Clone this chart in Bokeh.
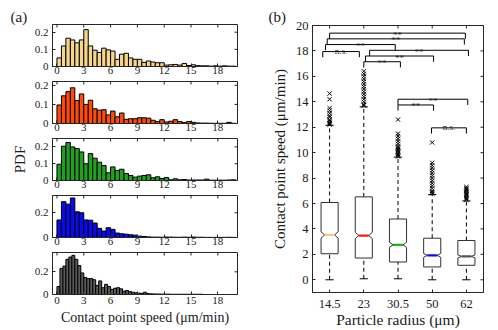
from bokeh.plotting import figure
from bokeh.layouts import row, column
from bokeh.models import FixedTicker, Range1d, ColumnDataSource, Title
from bokeh.embed import file_html
from bokeh.resources import INLINE
from bokeh.core.properties import value

# ---------------- data ----------------
radius_labels = ["14.5", "23", "30.5", "50", "62"]
hist_colors = ["#F5D68C", "#FF4A0A", "#1FA01F", "#0A0AF0", "#5A5A5A"]
median_colors = ["#F2C98A", "#F01E0A", "#22B022", "#0A0AF0", "#555555"]

bin_width_145 = 0.5
pdf_145 = [0.050, 0.120, 0.165, 0.155, 0.138, 0.155, 0.215, 0.120, 0.095, 0.082,
           0.107, 0.097, 0.090, 0.042, 0.072, 0.077, 0.050, 0.042, 0.042, 0.024,
           0.032, 0.026, 0.022, 0.022, 0.008, 0.010, 0.012, 0.008, 0.018, 0.006,
           0.010, 0.005, 0.004, 0.004, 0.002, 0.004, 0.002, 0.004, 0.002, 0.002]
bin_width_23 = 0.5
pdf_23 = [0.097, 0.145, 0.167, 0.187, 0.120, 0.155, 0.100, 0.122, 0.077, 0.070,
          0.072, 0.045, 0.065, 0.035, 0.055, 0.022, 0.025, 0.025, 0.030, 0.030,
          0.028, 0.017, 0.010, 0.020, 0.008, 0.012, 0.020, 0.010, 0.005, 0.010,
          0.006, 0.003, 0.002, 0.002, 0.001, 0.001, 0.001, 0.001, 0.006, 0.001]
bin_width_305 = 0.5
pdf_305 = [0.097, 0.204, 0.226, 0.200, 0.190, 0.170, 0.100, 0.160, 0.133, 0.109,
           0.089, 0.046, 0.081, 0.060, 0.067, 0.042, 0.030, 0.020, 0.026, 0.030,
           0.034, 0.016, 0.022, 0.012, 0.018, 0.004, 0.010, 0.004, 0.006, 0.003,
           0.003, 0.003, 0.003, 0.008, 0.002, 0.002, 0.002, 0.002, 0.003, 0.004]
bin_width_50 = 0.5
pdf_50 = [0.142, 0.290, 0.270, 0.320, 0.208, 0.200, 0.142, 0.140, 0.117, 0.074,
          0.052, 0.079, 0.066, 0.036, 0.030, 0.027, 0.022, 0.019, 0.011, 0.008,
          0.005, 0.003, 0.003, 0.002, 0.004, 0.003, 0.002, 0.002, 0.003, 0.002,
          0.004, 0.002, 0.002, 0.001, 0.001, 0.001, 0.001, 0.001, 0.002, 0.001]
bin_width_62 = 1 / 3
pdf_62 = [0.070, 0.230, 0.250, 0.310, 0.330, 0.345, 0.310, 0.255, 0.190, 0.150,
          0.140, 0.140, 0.130, 0.080, 0.120, 0.060, 0.090, 0.070, 0.045, 0.055,
          0.060, 0.050, 0.030, 0.035, 0.025, 0.020, 0.015, 0.012, 0.010, 0.020,
          0.008, 0.006, 0.005, 0.004, 0.004, 0.003, 0.003, 0.003, 0.002, 0.002,
          0.002, 0.002, 0.002, 0.002, 0.002, 0.002, 0.002, 0.002, 0.002]

hist_ymax = [0.245, 0.22, 0.25, 0.34, 0.37]
hist_yticks = [[0, 0.1, 0.2], [0, 0.1, 0.2], [0, 0.1, 0.2], [0, 0.2], [0, 0.2]]
speed_ticks = [0, 3, 6, 9, 12, 15, 18]
speed_range = (-0.5, 20.2)

# box plot statistics (µm/min)
q1 = [2.05, 1.71, 1.40, 1.01, 1.14]
median = [3.53, 3.48, 2.75, 1.92, 1.84]
q3 = [6.08, 6.52, 4.78, 3.27, 3.09]
notch_half = [0.25, 0.25, 0.20, 0.15, 0.12]
whisker_low = [0.0, 0.08, 0.08, 0.0, 0.0]
whisker_high = [12.15, 13.6, 9.65, 6.7, 6.2]
outliers = [
    [14.65, 14.2, 13.5, 13.3, 13.1, 12.9, 12.8, 12.6, 12.5, 12.4, 12.3, 12.2],
    [16.4, 16.2, 16.0, 15.8, 15.6, 15.4, 15.2, 15.0, 14.8, 14.6, 14.4, 14.2, 14.0, 13.8, 13.7],
    [12.6, 11.5, 11.3, 11.1, 10.9, 10.7, 10.5, 10.4, 10.3, 10.2, 10.1, 10.0, 9.9, 9.8, 9.7],
    [10.8, 9.2, 9.0, 8.8, 8.6, 8.4, 8.2, 8.0, 7.8, 7.6, 7.4, 7.2, 7.0, 6.9, 6.8],
    [7.3, 7.2, 7.1, 7.0, 6.9, 6.8, 6.7, 6.6, 6.5, 6.4, 6.3],
]
speed_yticks = [0, 2, 4, 6, 8, 10, 12, 14, 16, 18, 20]

# significance brackets: left x, right x, height, label
br_x1 = [1.00, 0.93, 0.88, 0.80, 2.17, 2.05, 2.00, 3.00, 3.00, 3.98]
br_x2 = [4.97, 4.94, 2.92, 1.87, 5.06, 4.04, 3.07, 5.04, 4.04, 5.00]
br_y = [19.40, 18.95, 18.50, 17.95, 18.05, 17.60, 17.15, 14.20, 13.75, 11.95]
br_label = ["**", "**", "**", "n.s.", "**", "**", "**", "**", "**", "n.s."]

FONT = "Liberation Serif"
TXT = "#1a1a1a"
AX = "#262626"
TICK_PX = 3


def style_axis(ax, ticks, size, standoff):
    ax.ticker = FixedTicker(ticks=ticks)
    ax.major_tick_in = TICK_PX
    ax.major_tick_out = 0
    ax.minor_tick_line_color = None
    ax.axis_line_color = AX
    ax.major_tick_line_color = AX
    ax.major_label_text_font = FONT
    ax.major_label_text_font_size = size
    ax.major_label_text_color = TXT
    ax.major_label_standoff = standoff
    ax.axis_label_text_font = FONT
    ax.axis_label_text_font_style = "normal"
    ax.axis_label_text_color = TXT


def mirror_ticks(p, xr, yr, xticks, yticks, frame_w, frame_h):
    """inward tick marks on the top and right frame edges (box on)"""
    dy = TICK_PX * (yr[1] - yr[0]) / frame_h
    dx = TICK_PX * (xr[1] - xr[0]) / frame_w
    p.segment(x0=xticks, x1=xticks, y0=[yr[1]] * len(xticks), y1=[yr[1] - dy] * len(xticks),
              line_color=AX, line_width=1)
    p.segment(x0=[xr[1]] * len(yticks), x1=[xr[1] - dx] * len(yticks), y0=yticks, y1=yticks,
              line_color=AX, line_width=1)


def panel_title(p, text, offset, standoff):
    t = Title(text=text, align="left", offset=offset, standoff=standoff,
              text_font=FONT, text_font_size="15px", text_font_style="normal",
              text_color=TXT)
    p.add_layout(t, "above")


# ---------------- histograms ----------------
pdfs = [pdf_145, pdf_23, pdf_305, pdf_50, pdf_62]
widths = [bin_width_145, bin_width_23, bin_width_305, bin_width_50, bin_width_62]
tops = [24, 2, 2, 2, 2]
bottoms = [13, 13, 13, 13, 36]
FH = 42
FW = 185

hists = []
main_x = []
main_y = []
for k in range(5):
    h = tops[k] + FH + bottoms[k]
    yr = (0, hist_ymax[k])
    p = figure(width=248, height=h, x_range=Range1d(*speed_range), y_range=Range1d(*yr),
               output_backend="svg", toolbar_location=None,
               min_border_left=52, min_border_right=11, min_border_top=tops[k], min_border_bottom=bottoms[k])
    p.grid.visible = False
    p.outline_line_color = AX
    vals = pdfs[k]
    bw = widths[k]
    src = ColumnDataSource(dict(left=[i * bw for i in range(len(vals))],
                                right=[(i + 1) * bw for i in range(len(vals))],
                                top=vals))
    p.quad(left="left", right="right", top="top", bottom=0, source=src,
           fill_color=hist_colors[k], line_color="black", line_width=1)
    xa = p.xaxis[0]
    ya = p.yaxis[0]
    style_axis(xa, speed_ticks, "11px", 0 if k < 4 else 2)
    style_axis(ya, hist_yticks[k], "11px", 4)
    ya.major_label_overrides = {0: "0"}
    mirror_ticks(p, speed_range, yr, speed_ticks, hist_yticks[k], FW, FH)
    hists.append(p)
    main_x.append(xa)
    main_y.append(ya)

main_y[2].axis_label = "PDF"
main_y[2].axis_label_text_font_size = "15px"
main_y[2].axis_label_standoff = 4
main_x[4].axis_label = "Contact point speed (μm/min)"
main_x[4].axis_label_text_font_size = "14px"
main_x[4].axis_label_standoff = 3
panel_title(hists[0], "(a)", -42, 0)

# ---------------- box plot ----------------
xr_b = (0.5, 5.5)
yr_b = (-1, 20)
pb = figure(width=250, height=330, x_range=Range1d(*xr_b), y_range=Range1d(*yr_b),
            output_backend="svg", toolbar_location=None,
            min_border_left=64, min_border_right=15, min_border_top=25, min_border_bottom=38)
pb.grid.visible = False
pb.outline_line_color = AX

pos = [i + 1 for i in range(5)]
w = 0.25
wn = 0.145
xs, ys = [], []
for i in range(5):
    x = pos[i]
    m, nh = median[i], notch_half[i]
    xs.append([x - w, x + w, x + w, x + wn, x + w, x + w, x - w, x - w, x - wn, x - w])
    ys.append([q1[i], q1[i], m - nh, m, m + nh, q3[i], q3[i], m + nh, m, m - nh])

pb.segment(x0=pos, x1=pos, y0=q3, y1=whisker_high, line_color="black", line_dash="4 3", line_width=1)
pb.segment(x0=pos, x1=pos, y0=whisker_low, y1=q1, line_color="black", line_dash="4 3", line_width=1)
cap = 0.12
pb.segment(x0=[x - cap for x in pos], x1=[x + cap for x in pos], y0=whisker_high, y1=whisker_high,
           line_color="black", line_width=1)
pb.segment(x0=[x - cap for x in pos], x1=[x + cap for x in pos], y0=whisker_low, y1=whisker_low,
           line_color="black", line_width=1)
pb.patches(xs, ys, fill_color="white", line_color="#303030", line_width=1)
pb.segment(x0=[x - wn for x in pos], x1=[x + wn for x in pos], y0=median, y1=median,
           line_color=median_colors, line_width=2.2)

ox, oy = [], []
for i in range(5):
    for v in outliers[i]:
        ox.append(pos[i])
        oy.append(v)
pb.scatter(ox, oy, marker="x", size=6, line_color="black", line_width=1)

drop = 0.45
bxs = [[a, a, b, b] for a, b in zip(br_x1, br_x2)]
bys = [[y - drop, y, y, y - drop] for y in br_y]
pb.multi_line(bxs, bys, line_color="black", line_width=1)
lx = [(a + b) / 2 for a, b in zip(br_x1, br_x2)]
ly = [y - 0.12 if s == "**" else y + 0.08 for y, s in zip(br_y, br_label)]
pb.text(x=lx, y=ly, text=br_label, text_font=value(FONT), text_font_size="9px",
        text_align="center", text_baseline="alphabetic", text_color="#222222")

bx = pb.xaxis[0]
by = pb.yaxis[0]
style_axis(bx, pos, "12.5px", 7)
bx.major_label_overrides = {p_: l for p_, l in zip(pos, radius_labels)}
bx.axis_label = "Particle radius (μm)"
bx.axis_label_text_font_size = "15.5px"
bx.axis_label_standoff = 0
style_axis(by, speed_yticks, "12.5px", 4)
by.axis_label = "Contact point speed (μm/min)"
by.axis_label_text_font_size = "15px"
by.axis_label_standoff = 5
mirror_ticks(pb, xr_b, yr_b, pos, speed_yticks, 171, 267)
panel_title(pb, "(b)", -44, 1)

layout = row(column(*hists, spacing=0), pb, spacing=0)
open("out.html", "w").write(file_html(layout, INLINE))
